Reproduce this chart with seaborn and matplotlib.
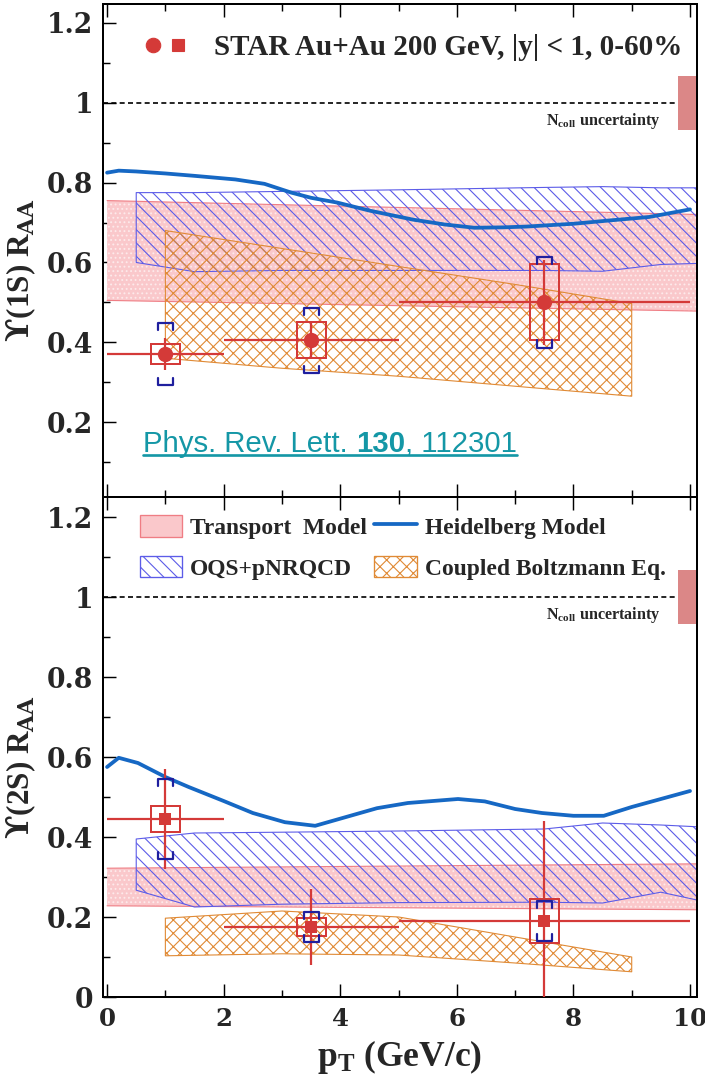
import numpy as np
import pandas as pd
import matplotlib
matplotlib.use("Agg")
import matplotlib.pyplot as plt
import seaborn as sns
from matplotlib.patches import Rectangle, Patch
from matplotlib.lines import Line2D
from matplotlib.legend_handler import HandlerTuple
from matplotlib.offsetbox import TextArea, HPacker, AnchoredOffsetbox
from matplotlib.ticker import MultipleLocator, FuncFormatter
from matplotlib.transforms import IdentityTransform

# ---------------- data ----------------
pt_centers = [1.0, 3.5, 7.5]
pt_lo = [0.0, 2.0, 5.0]
pt_hi = [2.0, 5.0, 10.0]

raa_1s = [0.37, 0.405, 0.50]
stat_1s = [0.04, 0.045, 0.107]
sys_1s = [0.025, 0.045, 0.095]
glob_1s = [0.078, 0.082, 0.113]

raa_2s = [0.445, 0.175, 0.19]
stat_2s = [0.125, 0.095, 0.25]
sys_2s = [0.032, 0.022, 0.054]
glob_2s = [0.10, 0.037, 0.05]

ncoll_unc = 0.067

heid_pt_1s = [0.0, 0.2, 0.5, 1.0, 1.5, 2.2, 2.7, 3.16, 3.5, 3.95, 4.5, 5.26, 5.8, 6.3, 6.8, 7.2, 8.0, 8.6, 9.3, 10.0]
heid_1s = [0.825, 0.83, 0.828, 0.823, 0.817, 0.808, 0.797, 0.775, 0.762, 0.75, 0.73, 0.707, 0.695, 0.687, 0.688, 0.69, 0.697, 0.705, 0.714, 0.733]

heid_pt_2s = [0.0, 0.2, 0.53, 1.0, 1.4, 2.0, 2.5, 3.05, 3.57, 4.1, 4.63, 5.16, 6.02, 6.48, 7.0, 7.46, 8.0, 8.52, 9.0, 10.0]
heid_2s = [0.575, 0.598, 0.585, 0.55, 0.525, 0.49, 0.46, 0.437, 0.428, 0.45, 0.472, 0.485, 0.495, 0.489, 0.47, 0.46, 0.453, 0.453, 0.475, 0.515]

trans_pt = [0.0, 10.2]
trans_lo_1s = [0.505, 0.478]
trans_hi_1s = [0.755, 0.72]
trans_lo_2s = [0.228, 0.218]
trans_hi_2s = [0.322, 0.333]

oqs_pt = [0.5, 1.5, 3.0, 5.0, 7.5, 8.5, 9.5, 10.2]
oqs_hi_1s = [0.775, 0.775, 0.778, 0.782, 0.788, 0.79, 0.787, 0.787]
oqs_lo_1s = [0.60, 0.577, 0.58, 0.58, 0.58, 0.578, 0.595, 0.598]
oqs_hi_2s = [0.395, 0.41, 0.412, 0.415, 0.42, 0.435, 0.43, 0.425]
oqs_lo_2s = [0.267, 0.225, 0.232, 0.236, 0.237, 0.235, 0.262, 0.24]

cb_pt = [1.0, 3.0, 5.0, 7.0, 9.0]
cb_hi_1s = [0.68, 0.635, 0.59, 0.545, 0.497]
cb_lo_1s = [0.36, 0.335, 0.315, 0.29, 0.265]
cb_hi_2s = [0.197, 0.215, 0.2, 0.15, 0.1]
cb_lo_2s = [0.103, 0.108, 0.105, 0.085, 0.063]

# ---------------- style ----------------
RED = "#d43a38"
NAVY = "#1f1f9e"
HEID = "#1668c4"
OQS = "#5c5ce8"
CB = "#e08a35"
PINK = "#fac8cb"
PINK_EDGE = "#ef7d84"
NCOLL = "#db8787"
TEAL = "#1497a6"

sns.set_theme(style="ticks")
plt.rcParams["font.family"] = ["Liberation Serif", "DejaVu Serif"]
plt.rcParams["font.weight"] = "bold"
plt.rcParams["mathtext.fontset"] = "custom"
plt.rcParams["mathtext.rm"] = "Liberation Serif:bold"
plt.rcParams["mathtext.bf"] = "Liberation Serif:bold"
plt.rcParams["mathtext.it"] = "Liberation Serif:bold:italic"
plt.rcParams["axes.linewidth"] = 1.8
plt.rcParams["hatch.linewidth"] = 1.0

DPI = 80
fig = plt.figure(figsize=(705 / DPI, 1080 / DPI), dpi=DPI)
L, W = 103 / 705, 594 / 705
ax1 = fig.add_axes([L, 1 - 497 / 1080, W, 493 / 1080])
ax2 = fig.add_axes([L, 1 - 997 / 1080, W, 500 / 1080])


def draw_panel(ax, raa, stat, sys_, glob, heid_pt, heid, tr_lo, tr_hi, oqs_lo, oqs_hi, cb_lo, cb_hi, marker, msize):
    # transport band
    ax.fill_between(trans_pt, tr_lo, tr_hi, facecolor=PINK, edgecolor="#fde9ea", hatch="...", linewidth=0, zorder=1)
    ax.plot(trans_pt, tr_lo, color=PINK_EDGE, lw=1.0, zorder=1.1)
    ax.plot(trans_pt, tr_hi, color=PINK_EDGE, lw=1.0, zorder=1.1)
    # OQS band
    ax.fill_between(oqs_pt, oqs_lo, oqs_hi, facecolor="none", edgecolor=OQS, hatch="\\\\", linewidth=1.0, zorder=2)
    # coupled Boltzmann band
    ax.fill_between(cb_pt, cb_lo, cb_hi, facecolor="none", edgecolor=CB, hatch="xx", linewidth=1.0, zorder=2)
    # Heidelberg
    sns.lineplot(x=heid_pt, y=heid, ax=ax, color=HEID, lw=3.4, sort=False, estimator=None, zorder=3)
    # data: errors
    x = np.array(pt_centers)
    y = np.array(raa)
    ax.errorbar(x, y, xerr=[x - np.array(pt_lo), np.array(pt_hi) - x], yerr=stat, fmt="none",
                ecolor=RED, elinewidth=2.0, capsize=0, zorder=4)
    for xi, yi, s in zip(x, y, sys_):
        ax.add_patch(Rectangle((xi - 0.25, yi - s), 0.5, 2 * s, fill=False, edgecolor=RED, lw=1.8, zorder=4))
    w, h = 0.13, 0.018
    for xi, yi, g in zip(x, y, glob):
        ax.plot([xi - w, xi - w, xi + w, xi + w], [yi + g - h, yi + g, yi + g, yi + g - h], color=NAVY, lw=2.0, zorder=4)
        ax.plot([xi - w, xi - w, xi + w, xi + w], [yi - g + h, yi - g, yi - g, yi - g + h], color=NAVY, lw=2.0, zorder=4)
    sns.scatterplot(x=x, y=y, ax=ax, marker=marker, s=msize, color=RED, edgecolor=RED, linewidth=0, zorder=5)
    # reference line and Ncoll box
    ax.axhline(1.0, color="black", lw=1.5, ls=(0, (3, 2)), zorder=2)
    ax.add_patch(Rectangle((9.79, 1 - ncoll_unc), 0.5, 2 * ncoll_unc, facecolor=NCOLL, edgecolor="none", zorder=2))
    ax.text(9.5, 0.955, "N$_{\\mathbf{coll}}$ uncertainty", ha="right", va="center", fontsize=14.5, fontweight="bold")
    # axes
    ax.set_xlim(-0.07, 10.12)
    ax.xaxis.set_major_locator(MultipleLocator(2))
    ax.xaxis.set_minor_locator(MultipleLocator(1))
    ax.yaxis.set_major_locator(MultipleLocator(0.2))
    ax.yaxis.set_minor_locator(MultipleLocator(0.1))
    ax.tick_params(which="both", direction="in", top=True, right=False, width=1.3, color="black")
    ax.tick_params(which="major", length=11.5)
    ax.tick_params(which="minor", length=6.3)
    ax.tick_params(axis="y", labelsize=24, pad=9)
    ax.tick_params(axis="x", labelsize=22, pad=9)
    ax.yaxis.set_major_formatter(FuncFormatter(lambda v, p: f"{v:g}"))
    ax.xaxis.set_major_formatter(FuncFormatter(lambda v, p: f"{v:g}"))
    for sp in ax.spines.values():
        sp.set_linewidth(1.8)
        sp.set_color("black")
    ax.set_facecolor("white")


def style_ticklabels(ax):
    for lab in ax.get_xticklabels() + ax.get_yticklabels():
        lab.set_fontweight("bold")
        lab.set_family("DejaVu Serif")


draw_panel(ax1, raa_1s, stat_1s, sys_1s, glob_1s, heid_pt_1s, heid_1s, trans_lo_1s, trans_hi_1s,
           oqs_lo_1s, oqs_hi_1s, cb_lo_1s, cb_hi_1s, "o", 190)
draw_panel(ax2, raa_2s, stat_2s, sys_2s, glob_2s, heid_pt_2s, heid_2s, trans_lo_2s, trans_hi_2s,
           oqs_lo_2s, oqs_hi_2s, cb_lo_2s, cb_hi_2s, "s", 130)

ax1.set_ylim(0.0125, 1.2475)
ax2.set_ylim(0.0, 1.25)
ax1.tick_params(labelbottom=False)
style_ticklabels(ax1)
style_ticklabels(ax2)

ax1.set_ylabel("$\\mathbf{\u03d2}$(1S) R$_{\\mathbf{AA}}$", fontsize=28, fontweight="bold", math_fontfamily="dejavuserif")
ax2.set_ylabel("$\\mathbf{\u03d2}$(2S) R$_{\\mathbf{AA}}$", fontsize=28, fontweight="bold", math_fontfamily="dejavuserif")
ax1.yaxis.set_label_coords(-0.11, 0.46)
ax2.yaxis.set_label_coords(-0.11, 0.46)
ax2.set_xlabel("p$_{\\mathbf{T}}$ (GeV/c)", fontsize=32, fontweight="bold")
ax2.xaxis.set_label_coords(0.5, -0.082)

# top legend
circ = Line2D([], [], marker="o", ls="none", color=RED, markersize=13)
sq = Line2D([], [], marker="s", ls="none", color=RED, markersize=11)
ax1.legend([(circ, sq)], ["STAR Au+Au 200 GeV, |y| < 1, 0-60%"],
           handler_map={tuple: HandlerTuple(ndivide=None, pad=0)},
           loc="center left", bbox_to_anchor=(0.063, 0.911), frameon=False,
           borderpad=0, borderaxespad=0, handlelength=1.72, handletextpad=0.8,
           prop={"size": 26.2, "weight": "bold"})

# bottom legend
h_tr = Patch(facecolor=PINK, edgecolor=PINK_EDGE, lw=1.2)
h_oqs = Patch(facecolor="white", edgecolor=OQS, hatch="\\\\", lw=1.2)
h_hd = Line2D([], [], color=HEID, lw=3.4)
h_cb = Patch(facecolor="white", edgecolor=CB, hatch="xx", lw=1.2)
ax2.legend([h_tr, h_oqs, h_hd, h_cb],
           ["Transport  Model", "OQS+pNRQCD", "Heidelberg Model", "Coupled Boltzmann Eq."],
           ncol=2, loc="upper left", bbox_to_anchor=(0.062, 0.964), frameon=False,
           borderpad=0, borderaxespad=0, handlelength=1.8, handleheight=1.03,
           handletextpad=0.34, labelspacing=0.72, columnspacing=0.3,
           prop={"size": 21.2, "weight": "bold"})

# reference text
FS = 26.4
t1 = TextArea("Phys. Rev. Lett.", textprops=dict(color=TEAL, fontsize=FS, family="Liberation Sans", fontweight="normal"))
t2 = TextArea("130", textprops=dict(color=TEAL, fontsize=FS, family="Liberation Sans", fontweight="bold"))
t3 = TextArea(", 112301", textprops=dict(color=TEAL, fontsize=FS, family="Liberation Sans", fontweight="normal"))
pack = HPacker(children=[t1, HPacker(children=[t2, t3], sep=0, pad=0, align="baseline")], sep=7.5, pad=0, align="baseline")
ab = AnchoredOffsetbox(loc="center left", child=pack, bbox_to_anchor=(0.0673, 0.107),
                       bbox_transform=ax1.transAxes, frameon=False, pad=0, borderpad=0)
ax1.add_artist(ab)

fig.canvas.draw()
bb = ab.get_window_extent(fig.canvas.get_renderer())
yline = bb.y0 + 3
fig.add_artist(Line2D([bb.x0, bb.x1], [yline, yline], transform=IdentityTransform(), color=TEAL, lw=2.4))

fig.savefig("out.png", dpi=DPI, facecolor="white")
